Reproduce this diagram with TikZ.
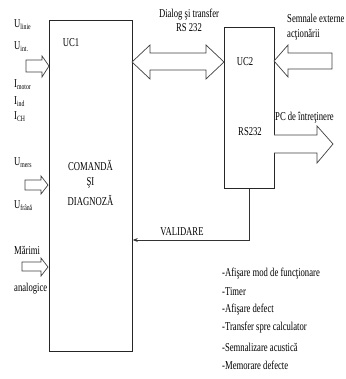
\documentclass[tikz,border=0pt]{standalone}
\usepackage{fontspec}
\setmainfont{Liberation Serif}[FakeStretch=0.72]
\usetikzlibrary{arrows.meta}
\begin{document}
\begin{tikzpicture}[x=1pt,y=-1pt,
  every node/.style={inner sep=0pt,font=\fontsize{12}{14}\selectfont},
  boxst/.style={draw=black!85,line width=0.8pt},
  barrow/.style={draw=black!75,line width=0.7pt,fill=white},
  lbl/.style={anchor=west},
  conn/.style={draw=black!80,line width=0.8pt,-{Stealth[length=5pt,width=4pt]}}]
\useasboundingbox (0,0) rectangle (345,379);
% boxes
\node[boxst,minimum width=83pt,minimum height=331pt,anchor=north west] (uc1) at (49,20) {};
\node[boxst,minimum width=50pt,minimum height=161pt,anchor=north west] (uc2) at (224,27) {};
% box texts
\node (t1) at (71,43) {UC1};
\node (t2) at (90.5,165) {COMANDĂ};
\node (t3) at (90.5,183) {ŞI};
\node (t4) at (90.5,200) {DIAGNOZĂ};
\node (t5) at (245,62) {UC2};
\node (t6) at (250,132) {RS232};
% double arrow
\draw[barrow] (132,62) -- (150,45) -- (150,53) -- (206,53) -- (206,45) -- (224,62)
  -- (206,79) -- (206,70) -- (150,70) -- (150,79) -- cycle;
\node (d1) at (189,15) {Dialog şi transfer};
\node (d2) at (189,28) {RS 232};
% Semnale externe arrow (into UC2)
\draw[barrow] (274,61) -- (288,45) -- (288,53) -- (332,53) -- (332,69) -- (288,69) -- (288,77) -- cycle;
\node[lbl] (s1) at (287,18) {Semnale externe};
\node[lbl] (s2) at (287,35) {acţionării};
% PC arrow (out of UC2)
\draw[barrow] (274,135) -- (317,135) -- (317,126) -- (333,144) -- (317,163) -- (317,153) -- (274,153);
\node[lbl] (p1) at (275,118) {PC de întreţinere};
% left arrows
\draw[barrow] (26,60) -- (42,60) -- (42,56) -- (49,66) -- (42,77) -- (42,72) -- (26,72) -- cycle;
\draw[barrow] (25,180) -- (41,180) -- (41,176) -- (48,185) -- (41,194) -- (41,190) -- (25,190) -- cycle;
\draw[barrow] (22,262) -- (41,262) -- (41,258) -- (48,267) -- (41,276) -- (41,271) -- (22,271) -- cycle;
% left labels
\node[lbl] (l1) at (14,25) {U\textsubscript{linie}};
\node[lbl] (l2) at (14,47) {U\textsubscript{int.}};
\node[lbl] (l3) at (14,85) {I\textsubscript{motor}};
\node[lbl] (l4) at (14,102) {I\textsubscript{ind}};
\node[lbl] (l5) at (14,117) {I\textsubscript{CH}};
\node[lbl] (l6) at (14,163) {U\textsubscript{mers}};
\node[lbl] (l7) at (14,206) {U\textsubscript{frână}};
\node[lbl] (l8) at (14,250) {Mărimi};
\node[lbl] (l9) at (14,289) {analogice};
% VALIDARE connector
\coordinate (vb) at (uc2.south |- 0,240);
\draw[conn] (uc2.south) -- (vb) -- (vb -| uc1.east);
\node (v1) at (182,232) {VALIDARE};
% list
\node[lbl] (m1) at (222,274) {-Afişare mod de funcţionare};
\node[lbl] (m2) at (222,292) {-Timer};
\node[lbl] (m3) at (222,310) {-Afişare defect};
\node[lbl] (m4) at (222,328) {-Transfer spre calculator};
\node[lbl] (m5) at (222,347) {-Semnalizare acustică};
\node[lbl] (m6) at (222,365) {-Memorare defecte};
\end{tikzpicture}
\end{document}
